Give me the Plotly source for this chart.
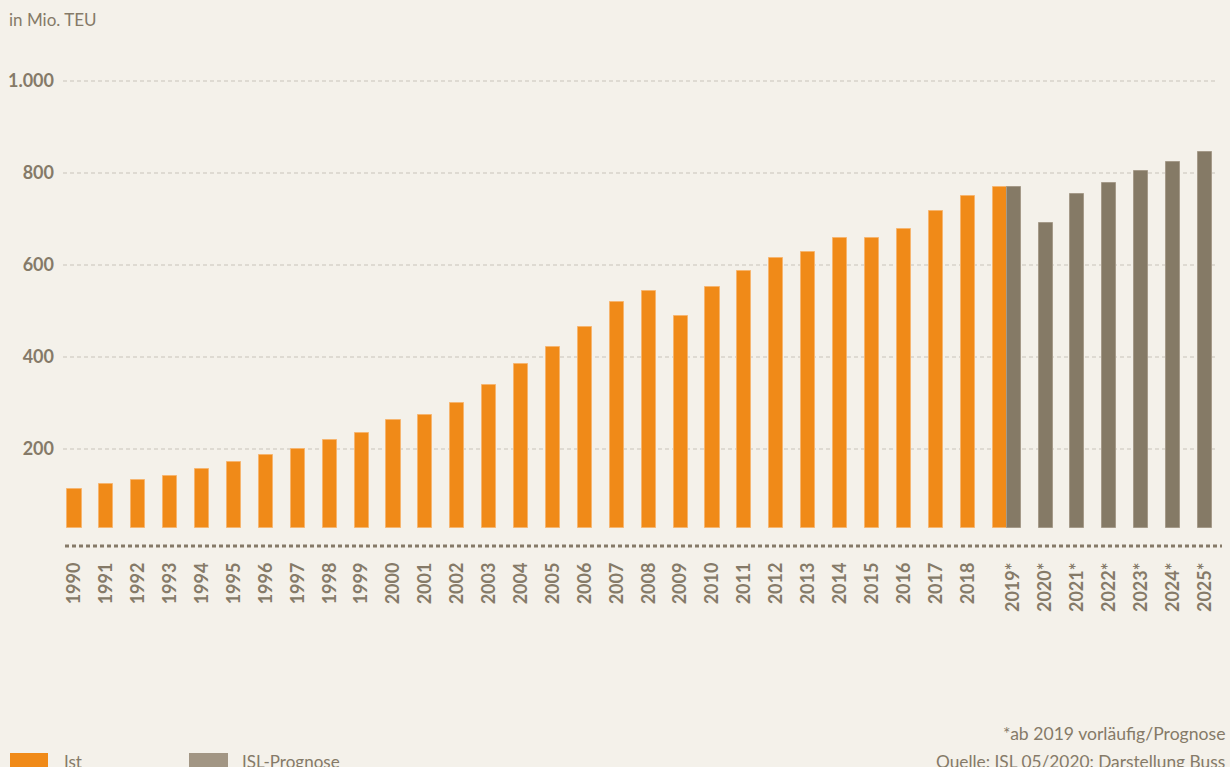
import plotly.graph_objects as go

# ---- data ----
ist_years = list(range(1990, 2020))
ist_values = [113, 123, 132, 142, 156, 171, 186, 200, 219, 234, 263, 273, 301, 340,
              384, 422, 465, 519, 543, 489, 552, 586, 615, 629, 658, 658, 677, 716,
              749, 769]
prog_years = list(range(2019, 2026))
prog_values = [769, 692, 755, 778, 803, 823, 846]
x_tick_labels = [str(y) for y in range(1990, 2019)] + [f"{y}*" for y in range(2019, 2026)]
y_tick_values = [200, 400, 600, 800, 1000]
y_tick_labels = ["200", "400", "600", "800", "1.000"]

# ---- style ----
BG = "#f4f1ea"
ORANGE = "#f08a18"
GREY = "#857a66"
GREY_LEGEND = "#a29684"
TEXT = "#857a68"
GRID = "#dedad2"
FONT = "Lato"
BAR_BASE = 28
BAR_W = 0.44

W, H = 1230, 767
L, R, T, B = 63, 14, 35, 221
plot_w = W - L - R
plot_h = H - T - B


def px_x(px):
    return (px - L) / plot_w


def px_y(py):
    return (H - B - py) / plot_h


fig = go.Figure()
fig.add_trace(go.Bar(
    x=ist_years, y=[v - BAR_BASE for v in ist_values], base=BAR_BASE,
    width=BAR_W, marker=dict(color=ORANGE, line=dict(color="#f6b56f", width=1)),
    name="Ist", customdata=ist_values, hovertemplate="%{x}: %{customdata}<extra></extra>",
))
fig.add_trace(go.Bar(
    x=prog_years, y=[v - BAR_BASE for v in prog_values], base=BAR_BASE,
    width=BAR_W, offset=BAR_W / 2,
    marker=dict(color=GREY, line=dict(color="#a59a89", width=1)),
    name="ISL-Prognose", customdata=prog_values,
    hovertemplate="%{x}*: %{customdata}<extra></extra>",
))

tick_pos = [y for y in range(1990, 2019)] + [y + BAR_W for y in range(2019, 2026)]

x0 = 1990 - 11.5 / 31.9
x1 = x0 + plot_w / 31.9
fig.update_xaxes(
    range=[x0, x1], tickvals=tick_pos, ticktext=x_tick_labels, tickangle=-90,
    showgrid=False, zeroline=False, showline=False, ticks="", automargin=False,
    tickfont=dict(family=FONT, size=18, color=TEXT, weight="bold"),
    ticklabelstandoff=12,
)
fig.update_yaxes(
    range=[-10.6, 1099.3], tickvals=y_tick_values, ticktext=y_tick_labels,
    showgrid=True, gridcolor=GRID, gridwidth=2, griddash="4px,3px",
    zeroline=False, showline=False, ticks="", automargin=False,
    tickfont=dict(family=FONT, size=18, color=TEXT, weight="bold"),
    ticklabelstandoff=8,
)

shapes = [
    dict(type="line", xref="paper", yref="paper", x0=px_x(65), x1=px_x(1222), y0=0, y1=0,
         line=dict(color=TEXT, width=3, dash="4px,3px")),
    dict(type="rect", xref="paper", yref="paper", x0=px_x(10), x1=px_x(48),
         y0=px_y(769), y1=px_y(753), fillcolor=ORANGE, line=dict(width=0)),
    dict(type="rect", xref="paper", yref="paper", x0=px_x(189), x1=px_x(228),
         y0=px_y(769), y1=px_y(753), fillcolor=GREY_LEGEND, line=dict(width=0)),
]

annotations = [
    dict(text="in Mio. TEU", xref="paper", yref="paper", x=px_x(7), y=px_y(19),
         xanchor="left", yanchor="middle", showarrow=False,
         font=dict(family=FONT, size=17, color=TEXT)),
    dict(text="Ist", xref="paper", yref="paper", x=px_x(62), y=px_y(761),
         xanchor="left", yanchor="middle", showarrow=False,
         font=dict(family=FONT, size=17, color=TEXT)),
    dict(text="ISL-Prognose", xref="paper", yref="paper", x=px_x(240), y=px_y(761),
         xanchor="left", yanchor="middle", showarrow=False,
         font=dict(family=FONT, size=17, color=TEXT)),
    dict(text="*ab 2019 vorläufig/Prognose", xref="paper", yref="paper", x=px_x(1227), y=px_y(733),
         xanchor="right", yanchor="middle", showarrow=False,
         font=dict(family=FONT, size=17.6, color=TEXT)),
    dict(text="Quelle: ISL 05/2020: Darstellung Buss", xref="paper", yref="paper",
         x=px_x(1227), y=px_y(761), xanchor="right", yanchor="middle", showarrow=False,
         font=dict(family=FONT, size=17.3, color=TEXT)),
]

fig.update_layout(
    width=W, height=H, margin=dict(l=L, r=R, t=T, b=B, pad=0),
    paper_bgcolor=BG, plot_bgcolor=BG, showlegend=False,
    bargap=0, shapes=shapes, annotations=annotations,
    font=dict(family=FONT, color=TEXT),
)

fig.write_html(
    "out.html",
    config={"displayModeBar": False},
    post_script="document.body.style.margin='0';document.body.style.background='" + BG + "';",
)
